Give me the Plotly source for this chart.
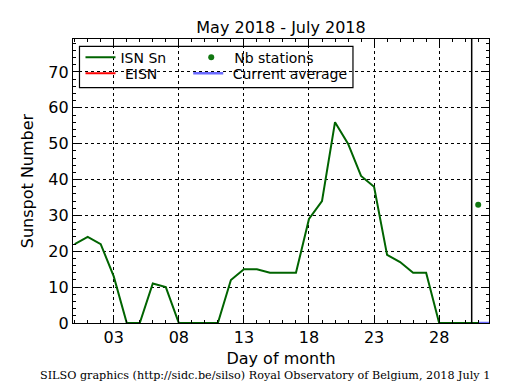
import plotly.graph_objects as go

# ---- data ----
days = list(range(0, 32))
isn_sn = [22, 24, 22, 13, 0, 0, 11, 10, 0, 0, 0, 0, 12, 15, 15, 14,
          14, 14, 29, 34, 56, 50, 41, 38, 19, 17, 14, 14, 0, 0, 0, 0]
eisn_days = [31]
eisn_vals = [0]
nb_days = [31]
nb_stations = [33]
avg_days = [31, 32]
avg_vals = [0, 0]
current_day_marker = 30.5
x_tick_vals = [3, 8, 13, 18, 23, 28]
x_tick_text = ["03", "08", "13", "18", "23", "28"]
y_tick_vals = [0, 10, 20, 30, 40, 50, 60, 70]

FONT = "DejaVu Sans"
NBSP = "\u00a0"

fig = go.Figure()
fig.add_trace(go.Scatter(x=days, y=isn_sn, mode="lines", name="ISN Sn",
                         line=dict(color="#006400", width=2), legend="legend", showlegend=True))
fig.add_trace(go.Scatter(x=eisn_days, y=eisn_vals,
                         mode="lines", name=NBSP + "EISN",
                         line=dict(color="#ff0000", width=2), legend="legend2", showlegend=True))
fig.add_trace(go.Scatter(x=nb_days, y=nb_stations, mode="markers", name="Nb stations",
                         marker=dict(color="#117711", size=6), legend="legend3", showlegend=True))
fig.add_trace(go.Scatter(x=avg_days, y=avg_vals, mode="lines", name=NBSP + "Current average",
                         line=dict(color="rgba(80,80,255,0.85)", width=2.5), legend="legend4",
                         showlegend=True))

fig.add_shape(type="line", xref="x", yref="paper", x0=current_day_marker, x1=current_day_marker,
              y0=0, y1=1, line=dict(color="black", width=1.5), layer="above")
# legend frame
fig.add_shape(type="rect", xref="paper", yref="paper", x0=0.0156, x1=0.673, y0=0.8285, y1=0.974,
              line=dict(color="black", width=1.2), fillcolor="white", layer="between")

axis_common = dict(showline=True, linecolor="black", linewidth=1.2, mirror="allticks",
                   ticks="inside", ticklen=6, tickcolor="black", tickwidth=1,
                   showgrid=True, gridcolor="black", griddash="dot", gridwidth=1,
                   zeroline=False, automargin=False,
                   tickfont=dict(family=FONT, size=16, color="black"))

fig.update_xaxes(range=[-0.13, 31.83], tickvals=x_tick_vals, ticktext=x_tick_text,
                 minor=dict(dtick=1, tick0=0, ticks="inside", ticklen=3, tickcolor="black", showgrid=False),
                 title=dict(text="Day of month", font=dict(family=FONT, size=16, color="black"), standoff=6),
                 **axis_common)
fig.update_yaxes(range=[0, 79.2], tickvals=y_tick_vals,
                 minor=dict(dtick=2, tick0=0, ticks="inside", ticklen=3, tickcolor="black", showgrid=False),
                 title=dict(text="Sunspot Number", font=dict(family=FONT, size=16, color="black"), standoff=10),
                 **axis_common)

legend_common = dict(bgcolor="rgba(0,0,0,0)", borderwidth=0, yanchor="middle", xanchor="left",
                     font=dict(family=FONT, size=14, color="black"))
# page body has an 8px margin; figure is sized/placed to compensate
fig.update_layout(
    width=507, height=382,
    margin=dict(l=64.5, r=25.7, t=31.3, b=66.7),
    showlegend=True,
    paper_bgcolor="white", plot_bgcolor="white",
    title=dict(text="May 2018 - July 2018", x=0.5, xref="paper", y=1 - 19 / 382, yanchor="middle",
               font=dict(family=FONT, size=16, color="black")),
    legend=dict(x=0.018, y=0.934, **legend_common),
    legend2=dict(x=0.018, y=0.878, **legend_common),
    legend3=dict(x=0.277, y=0.934, itemwidth=36, **legend_common),
    legend4=dict(x=0.277, y=0.878, **legend_common),
    annotations=[dict(text="SILSO graphics (http://sidc.be/silso) Royal Observatory of Belgium, 2018 July 1",
                      xref="paper", yref="paper", x=0.462, y=-0.186, xanchor="center", yanchor="middle",
                      showarrow=False, font=dict(family="DejaVu Serif", size=11.2, color="black"))],
)

fig.write_html("out.html")
